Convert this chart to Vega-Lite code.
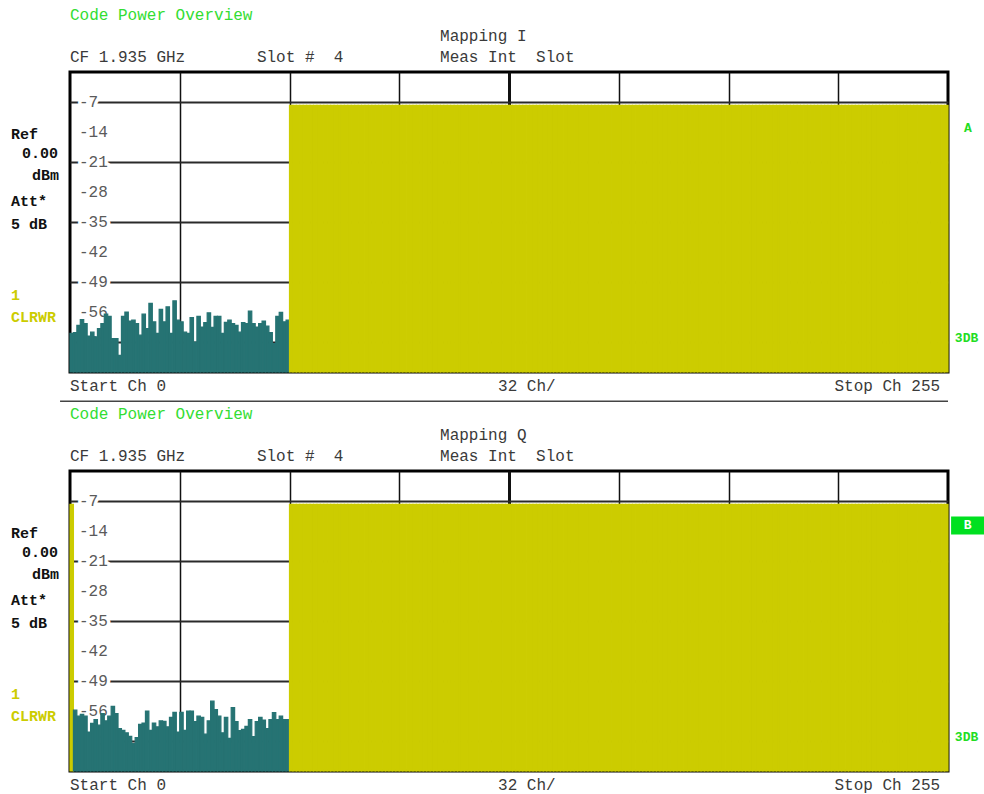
{
"$schema": "https://vega.github.io/schema/vega-lite/v6.json",
"background": "white",
"padding": {"left": 9, "top": 5, "right": 0, "bottom": 0},
"bounds": "flush",
"spacing": 99,
"config": {"view": {"stroke": "#000", "strokeWidth": 3}, "text": {"font": "Liberation Mono"}},
"datasets": {
"I": [
{"c":0,"v":-61.0},{"c":1,"v":-60.8},{"c":2,"v":-59.1},{"c":3,"v":-57.8},{"c":4,"v":-58.7},{"c":5,"v":-61.6},{"c":6,"v":-60.7},{"c":7,"v":-61.8},
{"c":8,"v":-59.9},{"c":9,"v":-58.7},{"c":10,"v":-56.5},{"c":11,"v":-57.0},{"c":12,"v":-62.2},{"c":13,"v":-62.2},{"c":14,"v":-66.1},{"c":15,"v":-57.0},
{"c":16,"v":-56.0},{"c":17,"v":-58.1},{"c":18,"v":-57.9},{"c":19,"v":-58.7},{"c":20,"v":-61.4},{"c":21,"v":-56.5},{"c":22,"v":-59.9},{"c":23,"v":-54.0},
{"c":24,"v":-58.3},{"c":25,"v":-61.0},{"c":26,"v":-55.4},{"c":27,"v":-58.3},{"c":28,"v":-54.8},{"c":29,"v":-61.0},{"c":30,"v":-53.4},{"c":31,"v":-57.9},
{"c":32,"v":-58.3},{"c":33,"v":-60.7},{"c":34,"v":-61.0},{"c":35,"v":-57.3},{"c":36,"v":-63.0},{"c":37,"v":-57.0},{"c":38,"v":-59.5},{"c":39,"v":-58.5},
{"c":40,"v":-56.2},{"c":41,"v":-59.6},{"c":42,"v":-57.0},{"c":43,"v":-57.0},{"c":44,"v":-61.0},{"c":45,"v":-58.4},{"c":46,"v":-57.9},{"c":47,"v":-58.7},
{"c":48,"v":-59.1},{"c":49,"v":-60.7},{"c":50,"v":-58.5},{"c":51,"v":-58.7},{"c":52,"v":-55.8},{"c":53,"v":-58.7},{"c":54,"v":-59.5},{"c":55,"v":-58.7},
{"c":56,"v":-58.1},{"c":57,"v":-59.3},{"c":58,"v":-60.8},{"c":59,"v":-63.4},{"c":60,"v":-57.0},{"c":61,"v":-56.1},{"c":62,"v":-58.3},{"c":63,"v":-57.9},
{"c":64,"v":-7.8},{"c":65,"v":-7.8},{"c":66,"v":-7.8},{"c":67,"v":-7.8},{"c":68,"v":-7.8},{"c":69,"v":-7.8},{"c":70,"v":-7.8},{"c":71,"v":-7.8},
{"c":72,"v":-7.8},{"c":73,"v":-7.8},{"c":74,"v":-7.8},{"c":75,"v":-7.8},{"c":76,"v":-7.8},{"c":77,"v":-7.8},{"c":78,"v":-7.8},{"c":79,"v":-7.8},
{"c":80,"v":-7.8},{"c":81,"v":-7.8},{"c":82,"v":-7.8},{"c":83,"v":-7.8},{"c":84,"v":-7.8},{"c":85,"v":-7.8},{"c":86,"v":-7.8},{"c":87,"v":-7.8},
{"c":88,"v":-7.8},{"c":89,"v":-7.8},{"c":90,"v":-7.8},{"c":91,"v":-7.8},{"c":92,"v":-7.8},{"c":93,"v":-7.8},{"c":94,"v":-7.8},{"c":95,"v":-7.8},
{"c":96,"v":-7.8},{"c":97,"v":-7.8},{"c":98,"v":-7.8},{"c":99,"v":-7.8},{"c":100,"v":-7.8},{"c":101,"v":-7.8},{"c":102,"v":-7.8},{"c":103,"v":-7.8},
{"c":104,"v":-7.8},{"c":105,"v":-7.8},{"c":106,"v":-7.8},{"c":107,"v":-7.8},{"c":108,"v":-7.8},{"c":109,"v":-7.8},{"c":110,"v":-7.8},{"c":111,"v":-7.8},
{"c":112,"v":-7.8},{"c":113,"v":-7.8},{"c":114,"v":-7.8},{"c":115,"v":-7.8},{"c":116,"v":-7.8},{"c":117,"v":-7.8},{"c":118,"v":-7.8},{"c":119,"v":-7.8},
{"c":120,"v":-7.8},{"c":121,"v":-7.8},{"c":122,"v":-7.8},{"c":123,"v":-7.8},{"c":124,"v":-7.8},{"c":125,"v":-7.8},{"c":126,"v":-7.8},{"c":127,"v":-7.8},
{"c":128,"v":-7.8},{"c":129,"v":-7.8},{"c":130,"v":-7.8},{"c":131,"v":-7.8},{"c":132,"v":-7.8},{"c":133,"v":-7.8},{"c":134,"v":-7.8},{"c":135,"v":-7.8},
{"c":136,"v":-7.8},{"c":137,"v":-7.8},{"c":138,"v":-7.8},{"c":139,"v":-7.8},{"c":140,"v":-7.8},{"c":141,"v":-7.8},{"c":142,"v":-7.8},{"c":143,"v":-7.8},
{"c":144,"v":-7.8},{"c":145,"v":-7.8},{"c":146,"v":-7.8},{"c":147,"v":-7.8},{"c":148,"v":-7.8},{"c":149,"v":-7.8},{"c":150,"v":-7.8},{"c":151,"v":-7.8},
{"c":152,"v":-7.8},{"c":153,"v":-7.8},{"c":154,"v":-7.8},{"c":155,"v":-7.8},{"c":156,"v":-7.8},{"c":157,"v":-7.8},{"c":158,"v":-7.8},{"c":159,"v":-7.8},
{"c":160,"v":-7.8},{"c":161,"v":-7.8},{"c":162,"v":-7.8},{"c":163,"v":-7.8},{"c":164,"v":-7.8},{"c":165,"v":-7.8},{"c":166,"v":-7.8},{"c":167,"v":-7.8},
{"c":168,"v":-7.8},{"c":169,"v":-7.8},{"c":170,"v":-7.8},{"c":171,"v":-7.8},{"c":172,"v":-7.8},{"c":173,"v":-7.8},{"c":174,"v":-7.8},{"c":175,"v":-7.8},
{"c":176,"v":-7.8},{"c":177,"v":-7.8},{"c":178,"v":-7.8},{"c":179,"v":-7.8},{"c":180,"v":-7.8},{"c":181,"v":-7.8},{"c":182,"v":-7.8},{"c":183,"v":-7.8},
{"c":184,"v":-7.8},{"c":185,"v":-7.8},{"c":186,"v":-7.8},{"c":187,"v":-7.8},{"c":188,"v":-7.8},{"c":189,"v":-7.8},{"c":190,"v":-7.8},{"c":191,"v":-7.8},
{"c":192,"v":-7.8},{"c":193,"v":-7.8},{"c":194,"v":-7.8},{"c":195,"v":-7.8},{"c":196,"v":-7.8},{"c":197,"v":-7.8},{"c":198,"v":-7.8},{"c":199,"v":-7.8},
{"c":200,"v":-7.8},{"c":201,"v":-7.8},{"c":202,"v":-7.8},{"c":203,"v":-7.8},{"c":204,"v":-7.8},{"c":205,"v":-7.8},{"c":206,"v":-7.8},{"c":207,"v":-7.8},
{"c":208,"v":-7.8},{"c":209,"v":-7.8},{"c":210,"v":-7.8},{"c":211,"v":-7.8},{"c":212,"v":-7.8},{"c":213,"v":-7.8},{"c":214,"v":-7.8},{"c":215,"v":-7.8},
{"c":216,"v":-7.8},{"c":217,"v":-7.8},{"c":218,"v":-7.8},{"c":219,"v":-7.8},{"c":220,"v":-7.8},{"c":221,"v":-7.8},{"c":222,"v":-7.8},{"c":223,"v":-7.8},
{"c":224,"v":-7.8},{"c":225,"v":-7.8},{"c":226,"v":-7.8},{"c":227,"v":-7.8},{"c":228,"v":-7.8},{"c":229,"v":-7.8},{"c":230,"v":-7.8},{"c":231,"v":-7.8},
{"c":232,"v":-7.8},{"c":233,"v":-7.8},{"c":234,"v":-7.8},{"c":235,"v":-7.8},{"c":236,"v":-7.8},{"c":237,"v":-7.8},{"c":238,"v":-7.8},{"c":239,"v":-7.8},
{"c":240,"v":-7.8},{"c":241,"v":-7.8},{"c":242,"v":-7.8},{"c":243,"v":-7.8},{"c":244,"v":-7.8},{"c":245,"v":-7.8},{"c":246,"v":-7.8},{"c":247,"v":-7.8},
{"c":248,"v":-7.8},{"c":249,"v":-7.8},{"c":250,"v":-7.8},{"c":251,"v":-7.8},{"c":252,"v":-7.8},{"c":253,"v":-7.8},{"c":254,"v":-7.8},{"c":255,"v":-7.8}
],
"Q": [
{"c":0,"v":-7.8},{"c":1,"v":-55.8},{"c":2,"v":-57.2},{"c":3,"v":-56.8},{"c":4,"v":-57.2},{"c":5,"v":-60.9},{"c":6,"v":-58.9},{"c":7,"v":-58.0},
{"c":8,"v":-59.3},{"c":9,"v":-56.6},{"c":10,"v":-58.3},{"c":11,"v":-57.2},{"c":12,"v":-54.9},{"c":13,"v":-56.6},{"c":14,"v":-60.1},{"c":15,"v":-60.5},
{"c":16,"v":-61.1},{"c":17,"v":-61.9},{"c":18,"v":-63.6},{"c":19,"v":-62.2},{"c":20,"v":-59.1},{"c":21,"v":-58.8},{"c":22,"v":-56.0},{"c":23,"v":-60.5},
{"c":24,"v":-58.8},{"c":25,"v":-59.7},{"c":26,"v":-58.3},{"c":27,"v":-58.4},{"c":28,"v":-59.7},{"c":29,"v":-57.5},{"c":30,"v":-56.3},{"c":31,"v":-60.9},
{"c":32,"v":-56.3},{"c":33,"v":-60.5},{"c":34,"v":-56.0},{"c":35,"v":-56.0},{"c":36,"v":-58.5},{"c":37,"v":-57.2},{"c":38,"v":-57.5},{"c":39,"v":-61.4},
{"c":40,"v":-58.3},{"c":41,"v":-53.7},{"c":42,"v":-55.7},{"c":43,"v":-57.2},{"c":44,"v":-61.1},{"c":45,"v":-57.5},{"c":46,"v":-62.4},{"c":47,"v":-55.2},
{"c":48,"v":-58.5},{"c":49,"v":-60.6},{"c":50,"v":-60.3},{"c":51,"v":-59.6},{"c":52,"v":-58.0},{"c":53,"v":-62.0},{"c":54,"v":-58.5},{"c":55,"v":-57.5},
{"c":56,"v":-58.1},{"c":57,"v":-60.1},{"c":58,"v":-58.0},{"c":59,"v":-56.4},{"c":60,"v":-58.0},{"c":61,"v":-57.2},{"c":62,"v":-58.0},{"c":63,"v":-58.0},
{"c":64,"v":-7.8},{"c":65,"v":-7.8},{"c":66,"v":-7.8},{"c":67,"v":-7.8},{"c":68,"v":-7.8},{"c":69,"v":-7.8},{"c":70,"v":-7.8},{"c":71,"v":-7.8},
{"c":72,"v":-7.8},{"c":73,"v":-7.8},{"c":74,"v":-7.8},{"c":75,"v":-7.8},{"c":76,"v":-7.8},{"c":77,"v":-7.8},{"c":78,"v":-7.8},{"c":79,"v":-7.8},
{"c":80,"v":-7.8},{"c":81,"v":-7.8},{"c":82,"v":-7.8},{"c":83,"v":-7.8},{"c":84,"v":-7.8},{"c":85,"v":-7.8},{"c":86,"v":-7.8},{"c":87,"v":-7.8},
{"c":88,"v":-7.8},{"c":89,"v":-7.8},{"c":90,"v":-7.8},{"c":91,"v":-7.8},{"c":92,"v":-7.8},{"c":93,"v":-7.8},{"c":94,"v":-7.8},{"c":95,"v":-7.8},
{"c":96,"v":-7.8},{"c":97,"v":-7.8},{"c":98,"v":-7.8},{"c":99,"v":-7.8},{"c":100,"v":-7.8},{"c":101,"v":-7.8},{"c":102,"v":-7.8},{"c":103,"v":-7.8},
{"c":104,"v":-7.8},{"c":105,"v":-7.8},{"c":106,"v":-7.8},{"c":107,"v":-7.8},{"c":108,"v":-7.8},{"c":109,"v":-7.8},{"c":110,"v":-7.8},{"c":111,"v":-7.8},
{"c":112,"v":-7.8},{"c":113,"v":-7.8},{"c":114,"v":-7.8},{"c":115,"v":-7.8},{"c":116,"v":-7.8},{"c":117,"v":-7.8},{"c":118,"v":-7.8},{"c":119,"v":-7.8},
{"c":120,"v":-7.8},{"c":121,"v":-7.8},{"c":122,"v":-7.8},{"c":123,"v":-7.8},{"c":124,"v":-7.8},{"c":125,"v":-7.8},{"c":126,"v":-7.8},{"c":127,"v":-7.8},
{"c":128,"v":-7.8},{"c":129,"v":-7.8},{"c":130,"v":-7.8},{"c":131,"v":-7.8},{"c":132,"v":-7.8},{"c":133,"v":-7.8},{"c":134,"v":-7.8},{"c":135,"v":-7.8},
{"c":136,"v":-7.8},{"c":137,"v":-7.8},{"c":138,"v":-7.8},{"c":139,"v":-7.8},{"c":140,"v":-7.8},{"c":141,"v":-7.8},{"c":142,"v":-7.8},{"c":143,"v":-7.8},
{"c":144,"v":-7.8},{"c":145,"v":-7.8},{"c":146,"v":-7.8},{"c":147,"v":-7.8},{"c":148,"v":-7.8},{"c":149,"v":-7.8},{"c":150,"v":-7.8},{"c":151,"v":-7.8},
{"c":152,"v":-7.8},{"c":153,"v":-7.8},{"c":154,"v":-7.8},{"c":155,"v":-7.8},{"c":156,"v":-7.8},{"c":157,"v":-7.8},{"c":158,"v":-7.8},{"c":159,"v":-7.8},
{"c":160,"v":-7.8},{"c":161,"v":-7.8},{"c":162,"v":-7.8},{"c":163,"v":-7.8},{"c":164,"v":-7.8},{"c":165,"v":-7.8},{"c":166,"v":-7.8},{"c":167,"v":-7.8},
{"c":168,"v":-7.8},{"c":169,"v":-7.8},{"c":170,"v":-7.8},{"c":171,"v":-7.8},{"c":172,"v":-7.8},{"c":173,"v":-7.8},{"c":174,"v":-7.8},{"c":175,"v":-7.8},
{"c":176,"v":-7.8},{"c":177,"v":-7.8},{"c":178,"v":-7.8},{"c":179,"v":-7.8},{"c":180,"v":-7.8},{"c":181,"v":-7.8},{"c":182,"v":-7.8},{"c":183,"v":-7.8},
{"c":184,"v":-7.8},{"c":185,"v":-7.8},{"c":186,"v":-7.8},{"c":187,"v":-7.8},{"c":188,"v":-7.8},{"c":189,"v":-7.8},{"c":190,"v":-7.8},{"c":191,"v":-7.8},
{"c":192,"v":-7.8},{"c":193,"v":-7.8},{"c":194,"v":-7.8},{"c":195,"v":-7.8},{"c":196,"v":-7.8},{"c":197,"v":-7.8},{"c":198,"v":-7.8},{"c":199,"v":-7.8},
{"c":200,"v":-7.8},{"c":201,"v":-7.8},{"c":202,"v":-7.8},{"c":203,"v":-7.8},{"c":204,"v":-7.8},{"c":205,"v":-7.8},{"c":206,"v":-7.8},{"c":207,"v":-7.8},
{"c":208,"v":-7.8},{"c":209,"v":-7.8},{"c":210,"v":-7.8},{"c":211,"v":-7.8},{"c":212,"v":-7.8},{"c":213,"v":-7.8},{"c":214,"v":-7.8},{"c":215,"v":-7.8},
{"c":216,"v":-7.8},{"c":217,"v":-7.8},{"c":218,"v":-7.8},{"c":219,"v":-7.8},{"c":220,"v":-7.8},{"c":221,"v":-7.8},{"c":222,"v":-7.8},{"c":223,"v":-7.8},
{"c":224,"v":-7.8},{"c":225,"v":-7.8},{"c":226,"v":-7.8},{"c":227,"v":-7.8},{"c":228,"v":-7.8},{"c":229,"v":-7.8},{"c":230,"v":-7.8},{"c":231,"v":-7.8},
{"c":232,"v":-7.8},{"c":233,"v":-7.8},{"c":234,"v":-7.8},{"c":235,"v":-7.8},{"c":236,"v":-7.8},{"c":237,"v":-7.8},{"c":238,"v":-7.8},{"c":239,"v":-7.8},
{"c":240,"v":-7.8},{"c":241,"v":-7.8},{"c":242,"v":-7.8},{"c":243,"v":-7.8},{"c":244,"v":-7.8},{"c":245,"v":-7.8},{"c":246,"v":-7.8},{"c":247,"v":-7.8},
{"c":248,"v":-7.8},{"c":249,"v":-7.8},{"c":250,"v":-7.8},{"c":251,"v":-7.8},{"c":252,"v":-7.8},{"c":253,"v":-7.8},{"c":254,"v":-7.8},{"c":255,"v":-7.8}
],
"ticks": [{"t":-7},{"t":-14},{"t":-21},{"t":-28},{"t":-35},{"t":-42},{"t":-49},{"t":-56},{"t":-63}]
},
"vconcat": [
{
"width": 878, "height": 300,
"layer": [
{"data": {"name": "ticks"}, "mark": {"type": "text", "align": "left", "baseline": "middle", "fontSize": 16, "dx": 9, "fill": "white", "stroke": "white", "strokeWidth": 7, "strokeJoin": "round"},
 "encoding": {"x": {"datum": 0, "scale": {"domain": [0, 256], "nice": false, "zero": false}}, "y": {"field": "t", "type": "quantitative", "scale": {"domain": [-70, 0], "nice": false, "zero": false}}, "text": {"field": "t", "type": "nominal"}}},
{"data": {"name": "ticks"}, "mark": {"type": "text", "align": "left", "baseline": "middle", "fontSize": 16, "dx": 9, "color": "#5a5a5a"},
 "encoding": {"x": {"datum": 0}, "y": {"field": "t", "type": "quantitative"}, "text": {"field": "t", "type": "nominal"}}},
{"data": {"name": "I"},
 "transform": [{"calculate": "datum.c + 1", "as": "c2"}],
 "mark": {"type": "rect", "strokeWidth": 1.2},
 "encoding": {
  "x": {"field": "c", "type": "quantitative", "scale": {"domain": [0, 256], "nice": false, "zero": false},
        "axis": {"values": [32,64,96,128,160,192,224], "grid": true, "gridColor": "#111", "gridWidth": {"condition": {"test": "datum.value === 128", "value": 3}, "value": 1.5}, "labels": false, "ticks": false, "domain": false, "title": null}},
  "x2": {"field": "c2"},
  "y": {"field": "v", "type": "quantitative", "scale": {"domain": [-70, 0], "nice": false, "zero": false},
        "axis": {"values": [-7,-14,-21,-28,-35,-42,-49,-56,-63], "grid": true, "gridColor": "#2a2a2a", "gridWidth": 2, "labels": false, "ticks": false, "domain": false, "title": null}},
  "y2": {"datum": -70},
  "color": {"condition": {"test": "datum.v > -30", "value": "#cccc00"}, "value": "#267373"},
  "stroke": {"condition": {"test": "datum.v > -30", "value": "#cccc00"}, "value": "#267373"}
 }},
{"data": {"values": [{}]}, "mark": {"type": "text", "text": "Code Power Overview", "align": "left", "baseline": "middle", "fontSize": 16, "color": "#33dd33"}, "encoding": {"x": {"datum": 0}, "y": {"datum": 13.2}}},
{"data": {"values": [{}]}, "mark": {"type": "text", "text": "Mapping I", "align": "left", "baseline": "middle", "fontSize": 16, "color": "#3a3a3a"}, "encoding": {"x": {"datum": 107.9}, "y": {"datum": 8.3}}},
{"data": {"values": [{}]}, "mark": {"type": "text", "text": "CF 1.935 GHz", "align": "left", "baseline": "middle", "fontSize": 16, "color": "#3a3a3a"}, "encoding": {"x": {"datum": 0}, "y": {"datum": 3.4}}},
{"data": {"values": [{}]}, "mark": {"type": "text", "text": "Slot #\u00a0\u00a04", "align": "left", "baseline": "middle", "fontSize": 16, "color": "#3a3a3a"}, "encoding": {"x": {"datum": 54.5}, "y": {"datum": 3.4}}},
{"data": {"values": [{}]}, "mark": {"type": "text", "text": "Meas Int\u00a0\u00a0Slot", "align": "left", "baseline": "middle", "fontSize": 16, "color": "#3a3a3a"}, "encoding": {"x": {"datum": 107.9}, "y": {"datum": 3.4}}},
{"data": {"values": [{}]}, "mark": {"type": "text", "text": "Start Ch 0", "align": "left", "baseline": "middle", "fontSize": 16, "color": "#3a3a3a"}, "encoding": {"x": {"datum": 0}, "y": {"datum": -73.3}}},
{"data": {"values": [{}]}, "mark": {"type": "text", "text": "32 Ch/", "align": "left", "baseline": "middle", "fontSize": 16, "color": "#3a3a3a"}, "encoding": {"x": {"datum": 124.8}, "y": {"datum": -73.3}}},
{"data": {"values": [{}]}, "mark": {"type": "text", "text": "Stop Ch 255", "align": "right", "baseline": "middle", "fontSize": 16, "color": "#3a3a3a"}, "encoding": {"x": {"datum": 253.7}, "y": {"datum": -73.3}}},
{"data": {"values": [{}]}, "mark": {"type": "rule", "color": "#444", "strokeWidth": 1.5}, "encoding": {"x": {"datum": -2.9}, "x2": {"datum": 256}, "y": {"datum": -76.8}}},
{"data": {"values": [{}]}, "mark": {"type": "text", "text": "Ref", "align": "left", "baseline": "middle", "fontSize": 15, "fontWeight": "bold", "color": "#111"}, "encoding": {"x": {"datum": -17.2}, "y": {"datum": -14.4}}},
{"data": {"values": [{}]}, "mark": {"type": "text", "text": "0.00", "align": "left", "baseline": "middle", "fontSize": 15, "fontWeight": "bold", "color": "#111"}, "encoding": {"x": {"datum": -14.0}, "y": {"datum": -19.0}}},
{"data": {"values": [{}]}, "mark": {"type": "text", "text": "dBm", "align": "left", "baseline": "middle", "fontSize": 15, "fontWeight": "bold", "color": "#111"}, "encoding": {"x": {"datum": -11.1}, "y": {"datum": -24.1}}},
{"data": {"values": [{}]}, "mark": {"type": "text", "text": "Att*", "align": "left", "baseline": "middle", "fontSize": 15, "fontWeight": "bold", "color": "#111"}, "encoding": {"x": {"datum": -17.2}, "y": {"datum": -30.1}}},
{"data": {"values": [{}]}, "mark": {"type": "text", "text": "5 dB", "align": "left", "baseline": "middle", "fontSize": 15, "fontWeight": "bold", "color": "#111"}, "encoding": {"x": {"datum": -17.2}, "y": {"datum": -35.4}}},
{"data": {"values": [{}]}, "mark": {"type": "text", "text": "1", "align": "left", "baseline": "middle", "fontSize": 15, "fontWeight": "bold", "color": "#cccc00"}, "encoding": {"x": {"datum": -17.2}, "y": {"datum": -52.1}}},
{"data": {"values": [{}]}, "mark": {"type": "text", "text": "CLRWR", "align": "left", "baseline": "middle", "fontSize": 15, "fontWeight": "bold", "color": "#cccc00"}, "encoding": {"x": {"datum": -17.2}, "y": {"datum": -57.2}}},
{"data": {"values": [{}]}, "mark": {"type": "text", "text": "A", "align": "center", "baseline": "middle", "fontSize": 13, "fontWeight": "bold", "color": "#22dd22"}, "encoding": {"x": {"datum": 261.8}, "y": {"datum": -13.1}}},
{"data": {"values": [{}]}, "mark": {"type": "text", "text": "3DB", "align": "left", "baseline": "middle", "fontSize": 13, "fontWeight": "bold", "color": "#22dd22"}, "encoding": {"x": {"datum": 258.0}, "y": {"datum": -62.1}}}
]
},
{
"width": 878, "height": 300,
"layer": [
{"data": {"name": "ticks"}, "mark": {"type": "text", "align": "left", "baseline": "middle", "fontSize": 16, "dx": 9, "fill": "white", "stroke": "white", "strokeWidth": 7, "strokeJoin": "round"},
 "encoding": {"x": {"datum": 0, "scale": {"domain": [0, 256], "nice": false, "zero": false}}, "y": {"field": "t", "type": "quantitative", "scale": {"domain": [-70, 0], "nice": false, "zero": false}}, "text": {"field": "t", "type": "nominal"}}},
{"data": {"name": "ticks"}, "mark": {"type": "text", "align": "left", "baseline": "middle", "fontSize": 16, "dx": 9, "color": "#5a5a5a"},
 "encoding": {"x": {"datum": 0}, "y": {"field": "t", "type": "quantitative"}, "text": {"field": "t", "type": "nominal"}}},
{"data": {"name": "Q"},
 "transform": [{"calculate": "datum.c + 1", "as": "c2"}],
 "mark": {"type": "rect", "strokeWidth": 1.2},
 "encoding": {
  "x": {"field": "c", "type": "quantitative", "scale": {"domain": [0, 256], "nice": false, "zero": false},
        "axis": {"values": [32,64,96,128,160,192,224], "grid": true, "gridColor": "#111", "gridWidth": {"condition": {"test": "datum.value === 128", "value": 3}, "value": 1.5}, "labels": false, "ticks": false, "domain": false, "title": null}},
  "x2": {"field": "c2"},
  "y": {"field": "v", "type": "quantitative", "scale": {"domain": [-70, 0], "nice": false, "zero": false},
        "axis": {"values": [-7,-14,-21,-28,-35,-42,-49,-56,-63], "grid": true, "gridColor": "#2a2a2a", "gridWidth": 2, "labels": false, "ticks": false, "domain": false, "title": null}},
  "y2": {"datum": -70},
  "color": {"condition": {"test": "datum.v > -30", "value": "#cccc00"}, "value": "#267373"},
  "stroke": {"condition": {"test": "datum.v > -30", "value": "#cccc00"}, "value": "#267373"}
 }},
{"data": {"values": [{}]}, "mark": {"type": "text", "text": "Code Power Overview", "align": "left", "baseline": "middle", "fontSize": 16, "color": "#33dd33"}, "encoding": {"x": {"datum": 0}, "y": {"datum": 13.2}}},
{"data": {"values": [{}]}, "mark": {"type": "text", "text": "Mapping Q", "align": "left", "baseline": "middle", "fontSize": 16, "color": "#3a3a3a"}, "encoding": {"x": {"datum": 107.9}, "y": {"datum": 8.3}}},
{"data": {"values": [{}]}, "mark": {"type": "text", "text": "CF 1.935 GHz", "align": "left", "baseline": "middle", "fontSize": 16, "color": "#3a3a3a"}, "encoding": {"x": {"datum": 0}, "y": {"datum": 3.4}}},
{"data": {"values": [{}]}, "mark": {"type": "text", "text": "Slot #\u00a0\u00a04", "align": "left", "baseline": "middle", "fontSize": 16, "color": "#3a3a3a"}, "encoding": {"x": {"datum": 54.5}, "y": {"datum": 3.4}}},
{"data": {"values": [{}]}, "mark": {"type": "text", "text": "Meas Int\u00a0\u00a0Slot", "align": "left", "baseline": "middle", "fontSize": 16, "color": "#3a3a3a"}, "encoding": {"x": {"datum": 107.9}, "y": {"datum": 3.4}}},
{"data": {"values": [{}]}, "mark": {"type": "text", "text": "Start Ch 0", "align": "left", "baseline": "middle", "fontSize": 16, "color": "#3a3a3a"}, "encoding": {"x": {"datum": 0}, "y": {"datum": -73.3}}},
{"data": {"values": [{}]}, "mark": {"type": "text", "text": "32 Ch/", "align": "left", "baseline": "middle", "fontSize": 16, "color": "#3a3a3a"}, "encoding": {"x": {"datum": 124.8}, "y": {"datum": -73.3}}},
{"data": {"values": [{}]}, "mark": {"type": "text", "text": "Stop Ch 255", "align": "right", "baseline": "middle", "fontSize": 16, "color": "#3a3a3a"}, "encoding": {"x": {"datum": 253.7}, "y": {"datum": -73.3}}},
{"data": {"values": [{}]}, "mark": {"type": "text", "text": "Ref", "align": "left", "baseline": "middle", "fontSize": 15, "fontWeight": "bold", "color": "#111"}, "encoding": {"x": {"datum": -17.2}, "y": {"datum": -14.4}}},
{"data": {"values": [{}]}, "mark": {"type": "text", "text": "0.00", "align": "left", "baseline": "middle", "fontSize": 15, "fontWeight": "bold", "color": "#111"}, "encoding": {"x": {"datum": -14.0}, "y": {"datum": -19.0}}},
{"data": {"values": [{}]}, "mark": {"type": "text", "text": "dBm", "align": "left", "baseline": "middle", "fontSize": 15, "fontWeight": "bold", "color": "#111"}, "encoding": {"x": {"datum": -11.1}, "y": {"datum": -24.1}}},
{"data": {"values": [{}]}, "mark": {"type": "text", "text": "Att*", "align": "left", "baseline": "middle", "fontSize": 15, "fontWeight": "bold", "color": "#111"}, "encoding": {"x": {"datum": -17.2}, "y": {"datum": -30.1}}},
{"data": {"values": [{}]}, "mark": {"type": "text", "text": "5 dB", "align": "left", "baseline": "middle", "fontSize": 15, "fontWeight": "bold", "color": "#111"}, "encoding": {"x": {"datum": -17.2}, "y": {"datum": -35.4}}},
{"data": {"values": [{}]}, "mark": {"type": "text", "text": "1", "align": "left", "baseline": "middle", "fontSize": 15, "fontWeight": "bold", "color": "#cccc00"}, "encoding": {"x": {"datum": -17.2}, "y": {"datum": -52.1}}},
{"data": {"values": [{}]}, "mark": {"type": "text", "text": "CLRWR", "align": "left", "baseline": "middle", "fontSize": 15, "fontWeight": "bold", "color": "#cccc00"}, "encoding": {"x": {"datum": -17.2}, "y": {"datum": -57.2}}},
{"data": {"values": [{}]}, "mark": {"type": "rect", "color": "#00e020"}, "encoding": {"x": {"datum": 256.9}, "x2": {"datum": 266.5}, "y": {"datum": -10.6}, "y2": {"datum": -14.8}}},
{"data": {"values": [{}]}, "mark": {"type": "text", "text": "B", "align": "center", "baseline": "middle", "fontSize": 13, "fontWeight": "bold", "color": "white"}, "encoding": {"x": {"datum": 261.7}, "y": {"datum": -12.7}}},
{"data": {"values": [{}]}, "mark": {"type": "text", "text": "3DB", "align": "left", "baseline": "middle", "fontSize": 13, "fontWeight": "bold", "color": "#22dd22"}, "encoding": {"x": {"datum": 258.0}, "y": {"datum": -62.1}}}
]
}
]
}
